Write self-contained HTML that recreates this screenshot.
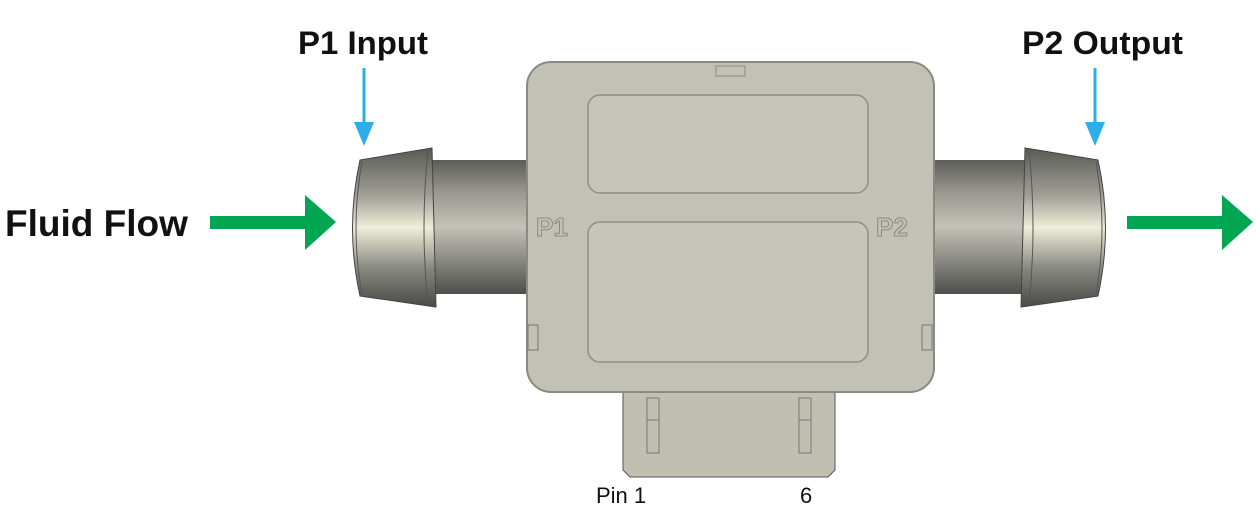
<!DOCTYPE html><html><head><style>body{margin:0;background:#fff}svg{display:block}</style></head><body>
<svg width="1256" height="517" viewBox="0 0 1256 517" font-family="Liberation Sans, sans-serif">
<defs>
<linearGradient id="pipe" x1="0" y1="0" x2="0" y2="1"><stop offset="0" stop-color="#5d5d58"/><stop offset=".25" stop-color="#9a9a92"/><stop offset=".5" stop-color="#c2c2b8"/><stop offset=".8" stop-color="#7d7d77"/><stop offset="1" stop-color="#4e4e4a"/></linearGradient>
<linearGradient id="cap" x1="0" y1="0" x2="0" y2="1"><stop offset="0" stop-color="#5a5a55"/><stop offset=".3" stop-color="#a0a098"/><stop offset=".5" stop-color="#eeeed8"/><stop offset=".75" stop-color="#8a8a84"/><stop offset="1" stop-color="#4a4a46"/></linearGradient>
</defs>
<rect x="425" y="160" width="105" height="134" fill="url(#pipe)"/>
<rect x="930" y="160" width="100" height="134" fill="url(#pipe)"/>
<path d="M360 160 L432 148 L436 307 L360 296 Q345 228 360 160Z" fill="url(#cap)" stroke="#444" stroke-width="1"/>
<path d="M362 162 Q350 228 362 294" fill="none" stroke="#555"/>
<path d="M428 150 Q420 228 428 305" fill="none" stroke="#555"/>
<path d="M1098 160 L1025 148 L1021 307 L1098 296 Q1113 228 1098 160Z" fill="url(#cap)" stroke="#444" stroke-width="1"/>
<path d="M1096 162 Q1108 228 1096 294" fill="none" stroke="#555"/>
<path d="M1029 150 Q1037 228 1029 305" fill="none" stroke="#555"/>
<path d="M623 392 H835 V470 L828 477 H630 L623 470Z" fill="#c0bfb2" stroke="#555"/>
<rect x="647" y="398" width="12" height="55" fill="none" stroke="#777"/><line x1="647" y1="420" x2="659" y2="420" stroke="#777"/>
<rect x="799" y="398" width="12" height="55" fill="none" stroke="#777"/><line x1="799" y1="420" x2="811" y2="420" stroke="#777"/>
<rect x="527" y="62" width="407" height="330" rx="24" fill="#c2c1b5" stroke="#8a8a82" stroke-width="2"/>
<rect x="716" y="66" width="29" height="10" fill="none" stroke="#888"/>
<rect x="588" y="95" width="280" height="98" rx="12" fill="#c6c5b9" stroke="#8f8f87" stroke-width="1.5"/>
<rect x="588" y="222" width="280" height="140" rx="12" fill="#c6c5b9" stroke="#8f8f87" stroke-width="1.5"/>
<rect x="528" y="325" width="10" height="25" fill="none" stroke="#777"/>
<rect x="922" y="325" width="10" height="25" fill="none" stroke="#777"/>
<text x="536" y="236" font-size="26" font-weight="bold" fill="#c2c1b5" stroke="#8a8a82" stroke-width="1">P1</text>
<text x="876" y="236" font-size="26" font-weight="bold" fill="#c2c1b5" stroke="#8a8a82" stroke-width="1">P2</text>
<rect x="210" y="216" width="98" height="13" fill="#00a651"/>
<path d="M305 195 L336 222 L305 250Z" fill="#00a651"/>
<rect x="1127" y="216" width="98" height="13" fill="#00a651"/>
<path d="M1222 195 L1253 222 L1222 250Z" fill="#00a651"/>
<line x1="364" y1="68" x2="364" y2="125" stroke="#2eaee8" stroke-width="3"/>
<path d="M354 122 L374 122 L364 146Z" fill="#2eaee8"/>
<line x1="1095" y1="68" x2="1095" y2="125" stroke="#2eaee8" stroke-width="3"/>
<path d="M1085 122 L1105 122 L1095 146Z" fill="#2eaee8"/>
<text x="5" y="236" font-size="37" font-weight="bold" fill="#111">Fluid Flow</text>
<text x="298" y="54" font-size="32" font-weight="bold" fill="#111" textLength="130" lengthAdjust="spacingAndGlyphs">P1 Input</text>
<text x="1022" y="54" font-size="32" font-weight="bold" fill="#111" textLength="161" lengthAdjust="spacingAndGlyphs">P2 Output</text>
<text x="596" y="503" font-size="22" fill="#111">Pin 1</text>
<text x="800" y="503" font-size="22" fill="#111">6</text>
</svg>
</body></html>
